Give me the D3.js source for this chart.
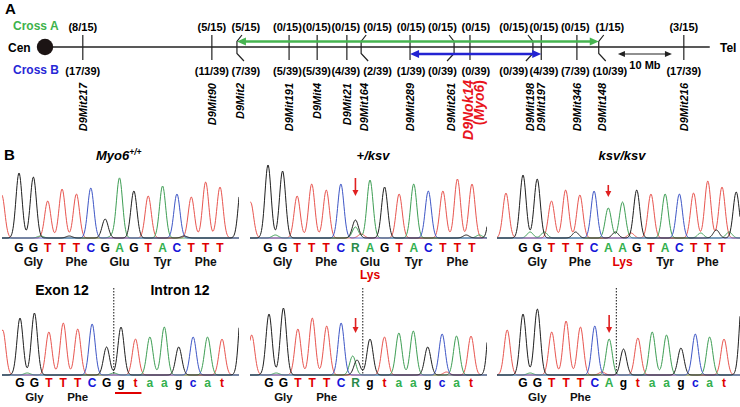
<!DOCTYPE html>
<html><head><meta charset="utf-8">
<script src="https://cdn.jsdelivr.net/npm/d3@7"></script>
<style>
body{margin:0;background:#fff}
svg{display:block}
text{font-family:Arial,"Liberation Sans",Helvetica,sans-serif;font-weight:bold}
</style>
</head><body>
<svg id="c" width="740" height="407"></svg>
<script>
// ---------------- Panel A data ----------------
const markers = ["D9Mit217","D9Mit90","D9Mit2","D9Mit191","D9Mit4","D9Mit21","D9Mit164","D9Mit289","D9Mit261","D9Nok14","D9Mit198","D9Mit197","D9Mit346","D9Mit148","D9Mit216"];
const markerMb = [7.0,30.9,36.1,45.2,50.4,55.9,59.1,67.6,75.2,78.7,89.8,91.9,98.5,103.1,118.3];
const markerShape = ["tick","tick","left","tick","tick","tick","left","tick","right","tick","right","tick","tick","left","tick"];
const countMb = [7.0,30.9,37.2,44.9,50.3,55.7,61.6,67.8,73.6,79.8,86.8,92.4,98.2,104.6,118.3];
const crossA = ["(8/15)","(5/15)","(5/15)","(0/15)","(0/15)","(0/15)","(0/15)","(0/15)","(0/15)","(0/15)","(0/15)","(0/15)","(0/15)","(1/15)","(3/15)"];
const crossB = ["(17/39)","(11/39)","(7/39)","(5/39)","(5/39)","(4/39)","(2/39)","(1/39)","(0/39)","(0/39)","(0/39)","(4/39)","(7/39)","(10/39)","(17/39)"];
const crossAInterval = ["D9Mit2","D9Mit148"];
const crossBInterval = ["D9Mit289","D9Mit197"];
const chromEndMb = 123.1;
const scaleBarMb = [106.1, 116.1];

// ---------------- Panel B data ----------------
// peaks: [position index, base, height]
const wtExonCalls = "GGTTTCGAGTACTTT".split("");
const wtExonPeaks = [[-1.2,"T",43],[0,"G",65],[1,"G",61],[2,"T",37],[3,"T",49],[4,"T",44],[5,"C",50],[6,"G",19],[7,"A",60],[8,"G",47],[9,"T",42],[10,"A",52],[11,"C",44],[12,"T",41],[13,"T",56],[14,"T",51],[15.5,"G",58],
  [1.5,"A",2],[6.5,"A",2],[3.5,"G",2],[11.5,"G",2]];
const hetExonCalls = "GGTTTCRAGTACTTT".split("");
const hetExonPeaks = [[-1.2,"T",36],[0,"G",73],[1,"G",67],[2,"T",42],[3,"T",54],[4,"T",48],[5,"C",54],[6,"G",18],[6,"A",11],[7,"A",58],[8,"G",51],[9,"T",44],[10,"A",54],[11,"C",47],[12,"T",47],[13,"T",59],[14,"T",54],[15.4,"G",55],
  [0.5,"A",3],[6.4,"T",4],[13.6,"G",3],[14.5,"A",3]];
const homExonCalls = "GGTTTCAAGTACTTT".split("");
const homExonPeaks = [[-1.2,"T",45],[0,"G",63],[1,"G",59],[2,"T",37],[3,"T",48],[4,"T",43],[5,"C",47],[6,"A",30],[7,"A",36],[8,"G",48],[9,"T",44],[10,"A",44],[11,"C",44],[12,"T",45],[13,"T",57],[14,"T",51],[15,"G",46],
  [0.5,"A",6],[1.5,"A",6],[3.7,"G",6],[6.5,"G",6],[7.6,"T",5],[13.6,"G",8],[14.5,"A",6],[12.5,"A",5]];
const wtIntronCalls = "GGTTTCGgtaagcat".split("");
const wtIntronPeaks = [[-1.2,"T",45],[0,"G",57],[1,"G",62],[2,"T",43],[3,"T",52],[4,"T",46],[5,"C",51],[6,"G",28],[7,"G",48],[8,"T",36],[9,"A",38],[10,"A",48],[11,"G",28],[12,"C",38],[13,"A",38],[14,"T",36],[15.4,"G",82],
  [0.5,"A",2],[6.5,"A",2]];
const hetIntronCalls = "GGTTTCRgtaagcat".split("");
const hetIntronPeaks = [[-1.2,"T",40],[0,"G",61],[1,"G",67],[2,"T",46],[3,"T",57],[4,"T",49],[5,"C",52],[5.8,"A",19],[6.1,"G",15],[7,"G",36],[8,"T",38],[9,"A",42],[10,"A",44],[11,"G",28],[12,"C",41],[13,"A",39],[14,"T",39],[15.4,"G",84],
  [0.5,"A",2],[12.3,"T",3]];
const homIntronCalls = "GGTTTCAgtaagcat".split("");
const homIntronPeaks = [[-1.1,"T",45],[0,"G",61],[1,"G",66],[2,"T",43],[3,"T",54],[4,"T",48],[5,"C",49],[6,"A",36],[7,"G",26],[8,"T",37],[9,"A",43],[10,"A",40],[11,"G",27],[12,"C",41],[13,"A",38],[14,"T",36],[15.3,"G",86],
  [0.5,"A",2],[5.5,"T",3]];
const exonAA = ["Gly","Phe","Glu","Tyr","Phe"];
const exonAAMut = ["","","Lys","",""];
const homExonAA = ["Gly","Phe","Lys","Tyr","Phe"];
const intronAA = ["Gly","Phe"];

// ---------------- drawing ----------------
const svg = d3.select("#c");
const xMb = d3.scaleLinear().domain([0,124]).range([45,714.6]);
const chromY = 47;

svg.append("text").attr("x",5).attr("y",14).attr("font-size",15).text("A");
svg.append("text").attr("x",4).attr("y",160).attr("font-size",15).text("B");

// chromosome
svg.append("line").attr("x1",xMb(0)).attr("x2",xMb(chromEndMb)).attr("y1",chromY).attr("y2",chromY)
  .attr("stroke","#222").attr("stroke-width",1.3);
svg.append("circle").attr("cx",xMb(0)).attr("cy",chromY).attr("r",8.2).attr("fill","#1c1414");
svg.append("text").attr("x",8).attr("y",chromY+4.5).attr("font-size",12).text("Cen");
svg.append("text").attr("x",720).attr("y",chromY+4.5).attr("font-size",12).text("Tel");
svg.append("text").attr("x",13).attr("y",30).attr("font-size",12).attr("fill","#3db24b").text("Cross A");
svg.append("text").attr("x",13).attr("y",74).attr("font-size",12).attr("fill","#2727d6").text("Cross B");

// markers
markers.forEach((m,i)=>{
  const x = xMb(markerMb[i]);
  const s = markerShape[i];
  if (s==="tick") {
    svg.append("line").attr("x1",x).attr("x2",x).attr("y1",35).attr("y2",60).attr("stroke","#222").attr("stroke-width",1.2);
  } else {
    const d = s==="left" ? 1 : -1;
    const pts = [[x+2*d,35],[x-3*d,41.5],[x-3*d,53.5],[x+4*d,61]];
    svg.append("path").attr("d",d3.line()(pts)).attr("fill","none").attr("stroke","#222").attr("stroke-width",1.2);
  }
  svg.append("text").attr("x",xMb(countMb[i])).attr("y",31).attr("font-size",11).attr("text-anchor","middle").text(crossA[i]);
  svg.append("text").attr("x",xMb(countMb[i])).attr("y",75).attr("font-size",11).attr("text-anchor","middle").text(crossB[i]);
  if (m==="D9Nok14") {
    svg.append("text").attr("transform",`translate(${x+3},80) rotate(-90)`).attr("text-anchor","end")
      .attr("font-size",14).attr("font-style","italic").attr("fill","#e8141c").text(m);
    const t = svg.append("text").attr("transform",`translate(${x+14.5},80) rotate(-90)`).attr("text-anchor","end")
      .attr("font-size",14).attr("fill","#e8141c");
    t.append("tspan").text("(");
    t.append("tspan").attr("font-style","italic").text("Myo6");
    t.append("tspan").text(")");
  } else {
    svg.append("text").attr("transform",`translate(${x+4},83) rotate(-90)`).attr("text-anchor","end")
      .attr("font-size",11).attr("font-style","italic").text(m);
  }
});

function arrowLine(x1,x2,y,color,w,heads){
  svg.append("line").attr("x1",x1+(heads[0]?5:0)).attr("x2",x2-(heads[1]?5:0)).attr("y1",y).attr("y2",y)
    .attr("stroke",color).attr("stroke-width",w);
  if (heads[0]) svg.append("path").attr("d",d3.line()([[x1,y],[x1+9,y-4],[x1+9,y+4]])+"Z").attr("fill",color);
  if (heads[1]) svg.append("path").attr("d",d3.line()([[x2,y],[x2-9,y-4],[x2-9,y+4]])+"Z").attr("fill",color);
}
const mx = name => xMb(markerMb[markers.indexOf(name)]);
arrowLine(mx(crossAInterval[0])-3, mx(crossAInterval[1])-3, 41.5, "#46b450", 2.6, [true,true]);
arrowLine(mx(crossBInterval[0]), mx(crossBInterval[1]), 54, "#2323d2", 2.6, [true,true]);
// 10 Mb bar
(function(){
  const a = xMb(scaleBarMb[0]), b = xMb(scaleBarMb[1]), y = 54;
  svg.append("line").attr("x1",a+3).attr("x2",b-3).attr("y1",y).attr("y2",y).attr("stroke","#222").attr("stroke-width",1.2);
  svg.append("path").attr("d",d3.line()([[a,y],[a+7,y-3],[a+7,y+3]])+"Z").attr("fill","#222");
  svg.append("path").attr("d",d3.line()([[b,y],[b-7,y-3],[b-7,y+3]])+"Z").attr("fill","#222");
  svg.append("text").attr("x",(a+b)/2).attr("y",69).attr("font-size",11).attr("text-anchor","middle").text("10 Mb");
})();

// ---------------- chromatograms ----------------
const traceColor = {T:"#e8554f",A:"#3e9e54",C:"#3e56c6",G:"#1e1e1e"};
const callColor = {G:"#000",T:"#e00000",C:"#1414d8",A:"#33b04e",R:"#2a8a4a",g:"#000",t:"#e00000",c:"#1414d8",a:"#33b04e"};
let clipId = 0;
function chroma(cfg){
  const x = d3.scaleLinear().domain([0,14]).range(cfg.xr);
  const y = d3.scaleLinear().domain([0,100]).range([cfg.base,cfg.base-100]);
  const id = "clip"+(clipId++);
  svg.append("clipPath").attr("id",id).append("rect").attr("x",cfg.clip[0]).attr("y",cfg.base-110).attr("width",cfg.clip[1]-cfg.clip[0]).attr("height",112);
  const g = svg.append("g").attr("clip-path",`url(#${id})`);
  const sig = 3.05;
  const xs = d3.range(cfg.clip[0], cfg.clip[1]+0.5, 0.5);
  ["T","A","C","G"].forEach(b=>{
    const pk = cfg.peaks.filter(p=>p[1]===b);
    const pts = xs.map(px=>[px, y(d3.sum(pk,p=>p[2]*Math.exp(-((px-x(p[0]))**2)/(2*sig*sig))))]);
    g.append("path").attr("d",d3.line()(pts)).attr("fill","none").attr("stroke",traceColor[b]).attr("stroke-width",1);
  });
  cfg.calls.forEach((c,i)=>{
    svg.append("text").attr("x",x(i)).attr("y",cfg.callY).attr("font-size",12).attr("text-anchor","middle")
      .attr("fill",callColor[c]).text(c);
  });
  cfg.aa.forEach((a,k)=>{
    if(!a) return;
    svg.append("text").attr("x",x(3*k+1)).attr("y",cfg.aaY).attr("font-size",cfg.aaSize||12).attr("text-anchor","middle")
      .attr("fill", cfg.aaRed && cfg.aaRed[k] ? "#e00000" : "#111").text(a);
  });
  if (cfg.mut) cfg.mut.forEach((a,k)=>{
    if(!a) return;
    svg.append("text").attr("x",x(3*k+1)).attr("y",cfg.aaY+13.5).attr("font-size",12).attr("text-anchor","middle")
      .attr("fill","#e00000").text(a);
  });
  if (cfg.arrow) {
    const ax = x(cfg.arrow[0]);
    svg.append("line").attr("x1",ax).attr("x2",ax).attr("y1",cfg.arrow[1]).attr("y2",cfg.arrow[2]-5).attr("stroke","#e02020").attr("stroke-width",1.6);
    svg.append("path").attr("d",d3.line()([[ax,cfg.arrow[2]],[ax-3,cfg.arrow[2]-6],[ax+3,cfg.arrow[2]-6]])+"Z").attr("fill","#e02020");
  }
  if (cfg.dotted) {
    const dx = x(cfg.dotted);
    svg.append("line").attr("x1",dx).attr("x2",dx).attr("y1",288).attr("y2",cfg.base-1).attr("stroke","#111").attr("stroke-width",1).attr("stroke-dasharray","1.5,1.5");
  }
  if (cfg.underline) {
    svg.append("line").attr("x1",x(cfg.underline[0])-6).attr("x2",x(cfg.underline[1])+6).attr("y1",cfg.callY+6.5).attr("y2",cfg.callY+6.5)
      .attr("stroke","#e00000").attr("stroke-width",2);
  }
  return x;
}

chroma({xr:[19,220],clip:[2,239],base:238,peaks:wtExonPeaks,calls:wtExonCalls,aa:exonAA,callY:252,aaY:265.5});
chroma({xr:[268,472],clip:[250,487],base:238,peaks:hetExonPeaks,calls:hetExonCalls,aa:exonAA,mut:exonAAMut,callY:252,aaY:265.5,arrow:[6,178,196]});
chroma({xr:[523,722],clip:[497,740],base:238,peaks:homExonPeaks,calls:homExonCalls,aa:homExonAA,aaRed:[0,0,1,0,0],callY:252,aaY:265.5,arrow:[6,185,197]});
chroma({xr:[20,222],clip:[2,239],base:375,peaks:wtIntronPeaks,calls:wtIntronCalls,aa:intronAA,callY:386.5,aaY:401,aaSize:11.5,dotted:6.5,underline:[7,8]});
chroma({xr:[269,471],clip:[250,487],base:375,peaks:hetIntronPeaks,calls:hetIntronCalls,aa:intronAA,callY:386.5,aaY:401,aaSize:11.5,dotted:6.5,arrow:[6,318,333]});
chroma({xr:[523,724],clip:[497,740],base:375,peaks:homIntronPeaks,calls:homIntronCalls,aa:intronAA,callY:386.5,aaY:401,aaSize:11.5,dotted:6.5,arrow:[6,315,333]});

// titles
(function(){
  const t = svg.append("text").attr("x",96).attr("y",160).attr("font-size",13).attr("font-style","italic");
  t.append("tspan").text("Myo6");
  t.append("tspan").attr("dy",-5).attr("font-size",8.5).text("+/+");
  svg.append("text").attr("x",373).attr("y",160).attr("font-size",13).attr("font-style","italic").attr("text-anchor","middle").text("+/ksv");
  svg.append("text").attr("x",622).attr("y",160).attr("font-size",13).attr("font-style","italic").attr("text-anchor","middle").text("ksv/ksv");
  svg.append("text").attr("x",62).attr("y",295).attr("font-size",14).attr("text-anchor","middle").text("Exon 12");
  svg.append("text").attr("x",180).attr("y",295).attr("font-size",14).attr("text-anchor","middle").text("Intron 12");
})();
</script>
</body></html>
